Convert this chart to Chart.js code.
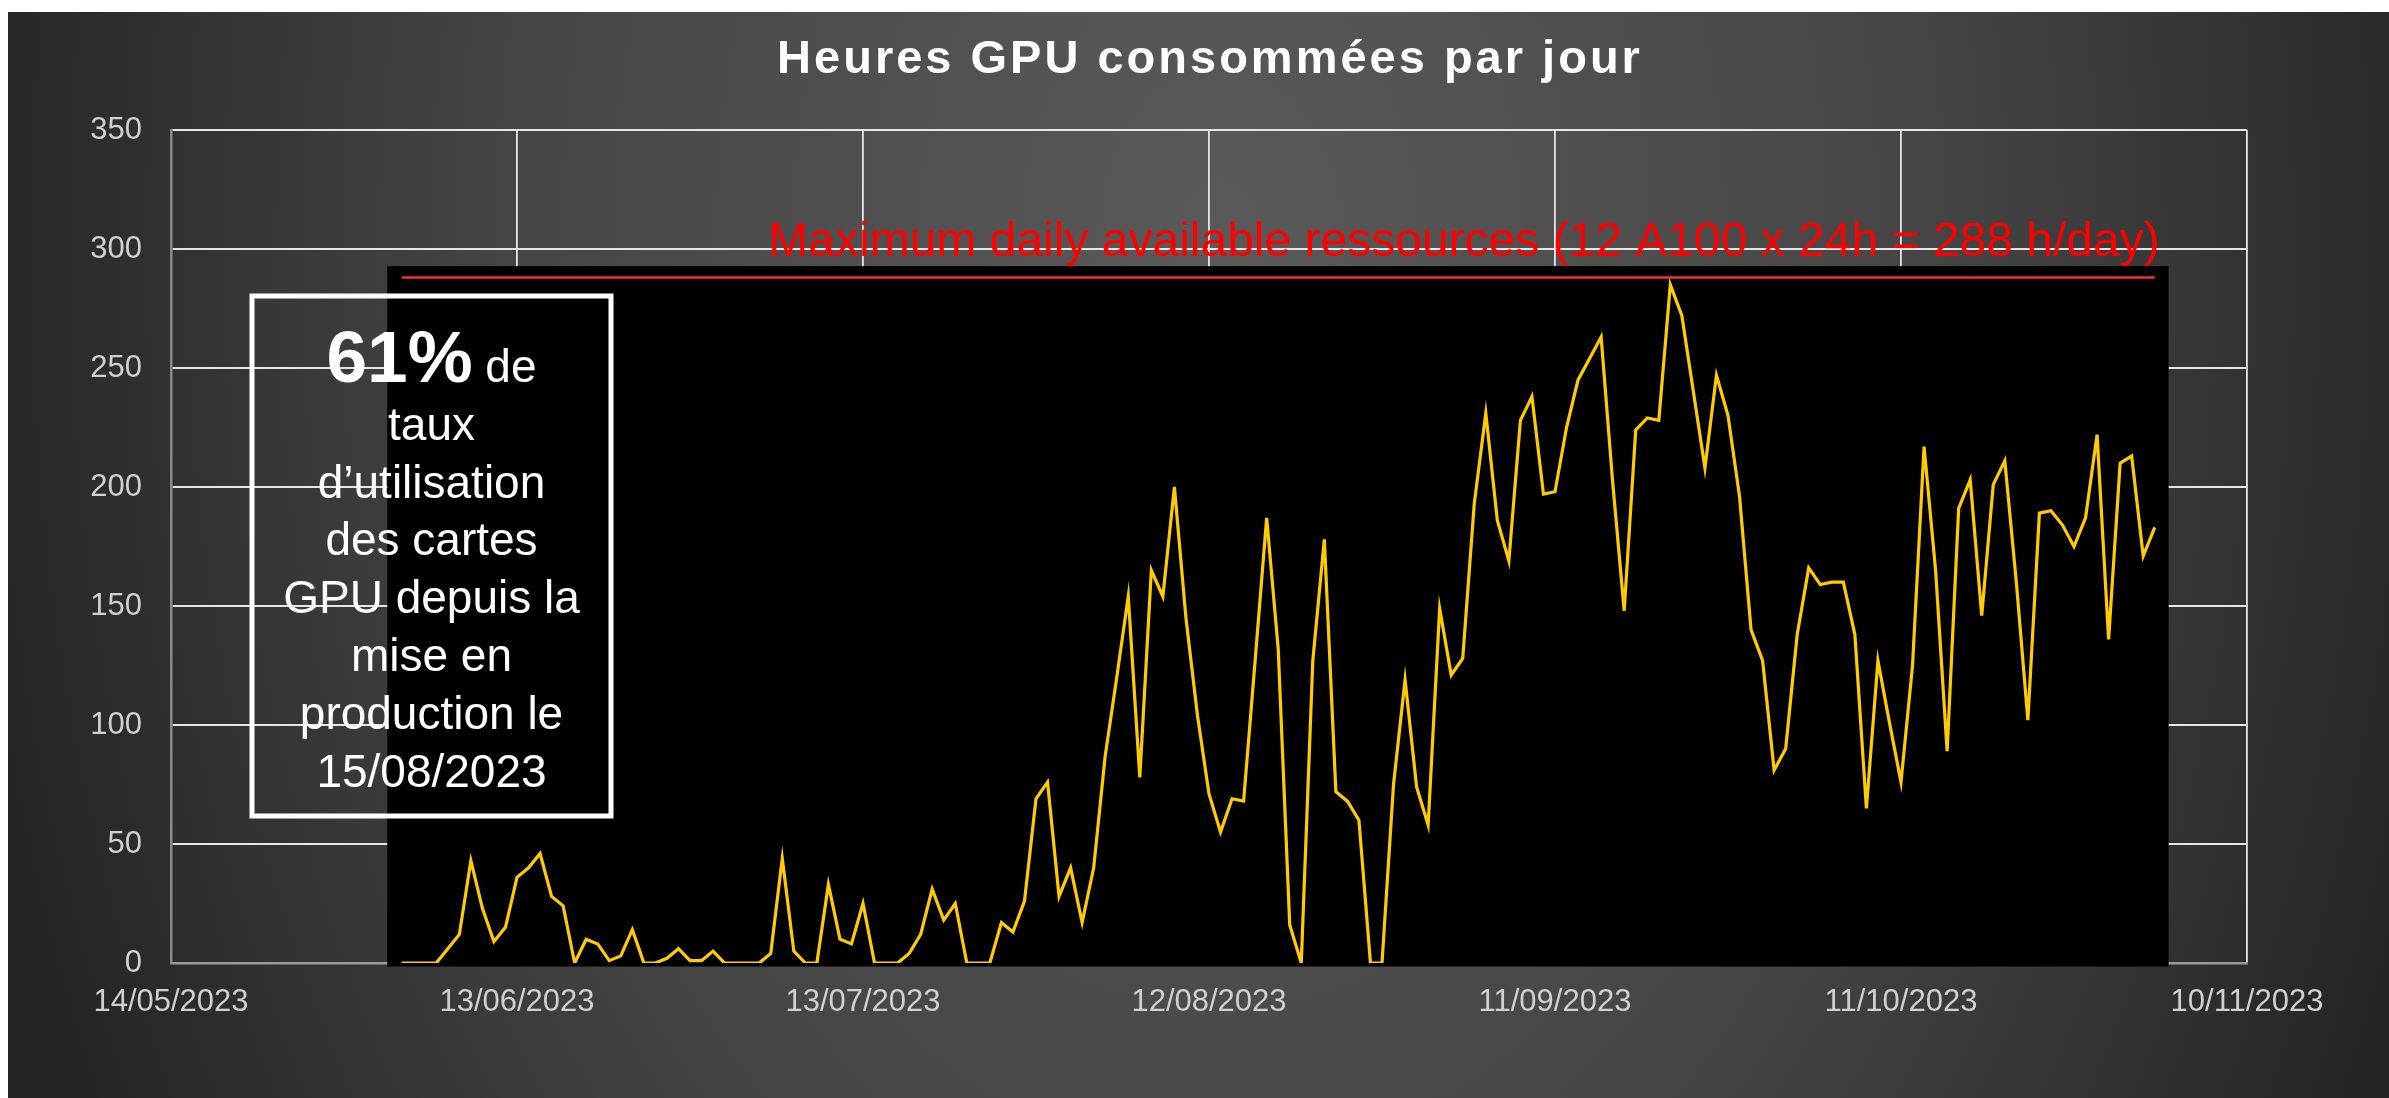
<!DOCTYPE html>
<html>
<head>
<meta charset="utf-8">
<title>Heures GPU consommées par jour</title>
<script src="https://cdn.jsdelivr.net/npm/chart.js@4/dist/chart.umd.min.js"></script>
<style>
  html, body { margin: 0; padding: 0; background: #fff; }
  #wrap { width: 2389px; height: 1098px; }
</style>
</head>
<body>
<div id="wrap"><canvas id="gpuChart" width="2389" height="1098"></canvas></div>
<script>
// x axis is "days after 14/05/2023"
const xTickLabels = ['14/05/2023', '13/06/2023', '13/07/2023', '12/08/2023', '11/09/2023', '11/10/2023', '10/11/2023'];
const yTickValues = [0, 50, 100, 150, 200, 250, 300, 350];
const firstDay = 20; // 03/06/2023
const gpuHours = [
    0, 0, 0, 0, 6, 12, 43, 23, 9, 15,
    36, 40, 46, 28, 24, 0, 10, 8, 1, 3,
    14, 0, 0, 2, 6, 1, 1, 5, 0, 0,
    0, 0, 4, 44, 5, 0, 0, 33, 10, 8,
    25, 0, 0, 0, 4, 12, 31, 18, 25, 0,
    0, 0, 17, 13, 26, 69, 76, 28, 40, 17,
    40, 87, 120, 154, 78, 165, 154, 200, 145, 104,
    71, 55, 69, 68, 127, 187, 132, 16, 0, 127,
    178, 72, 68, 60, 0, 0, 75, 119, 74, 58,
    149, 121, 128, 193, 231, 186, 169, 228, 238, 197,
    198, 225, 245, 254, 263, 202, 148, 224, 229, 228,
    285, 272, 240, 208, 247, 230, 196, 140, 127, 81,
    90, 138, 166, 159, 160, 160, 138, 65, 127, 101,
    76, 125, 217, 165, 89, 191, 203, 146, 201, 211,
    160, 102, 189, 190, 184, 175, 187, 222, 136, 210,
    213, 171, 183
];
const maxDaily = 288;
const maxLabel = 'Maximum daily available ressources (12 A100 x 24h = 288 h/day)';
const chartTitle = 'Heures GPU consommées par jour';
const boxBig = '61%';
const boxLines = [' de', 'taux', 'd\u2019utilisation', 'des cartes', 'GPU depuis la', 'mise en', 'production le', '15/08/2023'];

const lastDay = firstDay + gpuHours.length - 1;
const usagePoints = gpuHours.map((v, i) => ({ x: firstDay + i, y: v }));
const maxPoints = [{ x: firstDay, y: maxDaily }, { x: lastDay, y: maxDaily }];

const FONT = '"Liberation Sans", Arial, sans-serif';

const backdrop = {
    id: 'backdrop',
    beforeDraw(chart) {
        const ctx = chart.ctx;
        ctx.save();
        ctx.fillStyle = '#ffffff';
        ctx.fillRect(0, 0, chart.width, chart.height);
        ctx.translate(1220, 250);
        ctx.scale(1, 1.5);
        const g = ctx.createRadialGradient(0, 0, 0, 0, 0, 1300);
        g.addColorStop(0, '#5a5a5a');
        g.addColorStop(0.55, '#454545');
        g.addColorStop(1, '#232323');
        ctx.fillStyle = g;
        ctx.fillRect(8 - 1220, (12 - 250) / 1.5, chart.width, chart.height / 1.5);
        ctx.restore();
    }
};

// black panel behind the series
const blackPanel = {
    id: 'blackPanel',
    beforeDatasetsDraw(chart) {
        const { ctx, scales: { x, y } } = chart;
        const l = x.getPixelForValue(firstDay - 1.25);
        const r = x.getPixelForValue(lastDay + 1.2);
        const t = y.getPixelForValue(292.8);
        const b = y.getPixelForValue(0) + 3.5;
        ctx.save();
        ctx.fillStyle = '#000000';
        ctx.fillRect(l, t, r - l, b - t);
        ctx.restore();
    }
};

const overlays = {
    id: 'overlays',
    afterDraw(chart) {
        const { ctx, scales: { x, y } } = chart;
        ctx.save();
        // title
        ctx.fillStyle = '#ffffff';
        ctx.font = 'bold 47px ' + FONT;
        ctx.letterSpacing = '3px';
        ctx.textAlign = 'center';
        ctx.textBaseline = 'alphabetic';
        ctx.fillText(chartTitle, 1210, 73);
        ctx.letterSpacing = '0px';

        // max label
        ctx.fillStyle = '#ff0000';
        ctx.font = '48px ' + FONT;
        ctx.textAlign = 'right';
        ctx.fillText(maxLabel, x.getPixelForValue(lastDay) + 5, y.getPixelForValue(maxDaily) - 22);

        // text box
        const bx = 252, by = 296, bw = 359, bh = 520;
        ctx.strokeStyle = '#ffffff';
        ctx.lineWidth = 5;
        ctx.strokeRect(bx, by, bw, bh);
        const cx = bx + bw / 2;
        ctx.fillStyle = '#ffffff';
        ctx.textAlign = 'left';
        ctx.font = 'bold 73px ' + FONT;
        const wBig = ctx.measureText(boxBig).width;
        ctx.font = '46px ' + FONT;
        const wDe = ctx.measureText(boxLines[0]).width;
        let sx = cx - (wBig + wDe) / 2;
        ctx.font = 'bold 73px ' + FONT;
        ctx.fillText(boxBig, sx, 382);
        ctx.font = '46px ' + FONT;
        ctx.fillText(boxLines[0], sx + wBig, 382);
        ctx.textAlign = 'center';
        for (let i = 1; i < boxLines.length; i++) {
            ctx.fillText(boxLines[i], cx, 382 + i * 57.8);
        }
        ctx.restore();
    }
};

new Chart(document.getElementById('gpuChart'), {
    type: 'line',
    data: {
        datasets: [
            {
                label: 'Heures GPU',
                data: usagePoints,
                borderColor: '#ffcc00',
                borderWidth: 3.2,
                pointRadius: 0,
                tension: 0,
                order: 1
            },
            {
                label: 'Maximum',
                data: maxPoints,
                borderColor: '#f0323c',
                borderWidth: 2.5,
                pointRadius: 0,
                order: 2
            }
        ]
    },
    options: {
        responsive: false,
        animation: false,
        devicePixelRatio: 1,
        layout: { padding: { top: 130, right: 142, bottom: 0, left: 0 } },
        plugins: {
            legend: { display: false },
            tooltip: { enabled: false },
            title: { display: false }
        },
        scales: {
            x: {
                type: 'linear',
                min: 0,
                max: 180,
                afterFit: (s) => { s.height = 135; },
                afterBuildTicks: (s) => { s.ticks = xTickLabels.map((_, i) => ({ value: i * 30 })); },
                ticks: {
                    padding: 21,
                    color: '#d0d0d0',
                    font: { family: FONT, size: 31 },
                    maxRotation: 0,
                    callback: (v) => xTickLabels[v / 30]
                },
                grid: { color: '#e6e6e6', lineWidth: 1.8, drawTicks: false },
                border: { color: '#9a9a9a', width: 2.5 }
            },
            y: {
                min: 0,
                max: 350,
                afterFit: (s) => { s.width = 171; },
                afterBuildTicks: (s) => { s.ticks = yTickValues.map(v => ({ value: v })); },
                ticks: {
                    padding: 29,
                    color: '#d0d0d0',
                    font: { family: FONT, size: 31 }
                },
                grid: {
                    color: (c) => c.tick && c.tick.value === 0 ? '#9a9a9a' : '#e6e6e6',
                    lineWidth: 2,
                    drawTicks: false
                },
                border: { color: '#8a8a8a', width: 2.5 }
            }
        }
    },
    plugins: [backdrop, blackPanel, overlays]
});
</script>
</body>
</html>
